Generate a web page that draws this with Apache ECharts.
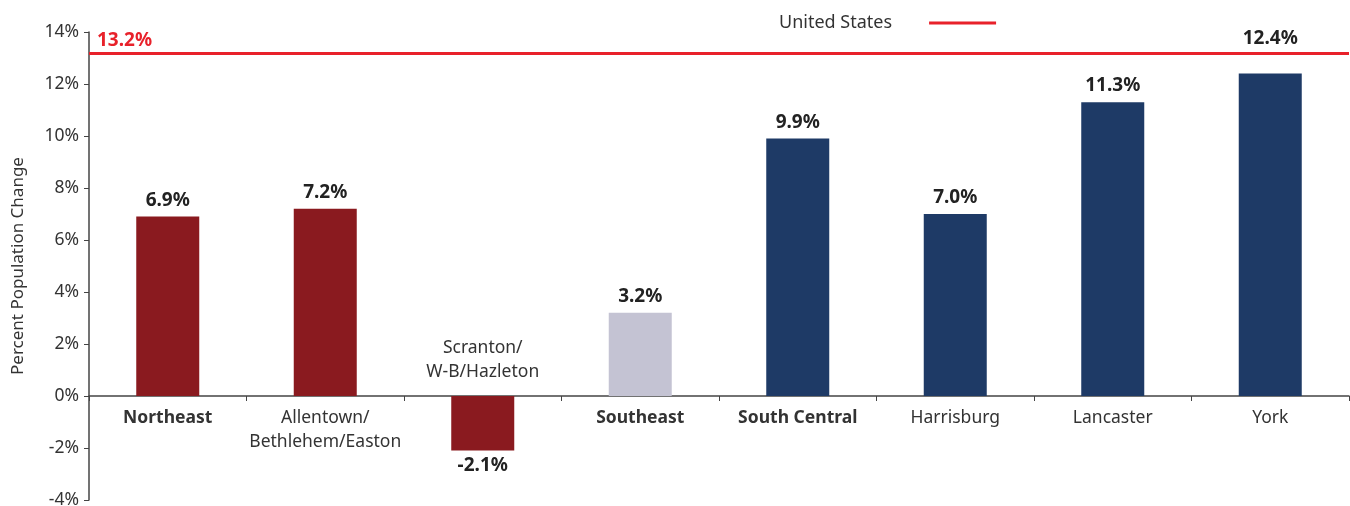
<!DOCTYPE html>
<html lang="en">
<head>
    <meta charset="utf-8"/>
    <title>Percent Population Change</title>
    <script src="https://cdn.jsdelivr.net/npm/echarts@6/dist/echarts.min.js"></script>
</head>
<body style="margin: 0; background: #fff">
<div id="chart" style="width: 1350px; height: 506px"></div>
<script>
    // data
    const regions = ['Northeast', 'Allentown/\nBethlehem/Easton', 'Scranton/\nW-B/Hazleton', 'Southeast',
        'South Central', 'Harrisburg', 'Lancaster', 'York'];
    const change = [6.9, 7.2, -2.1, 3.2, 9.9, 7.0, 11.3, 12.4];
    const barColors = ['#8a1a1f', '#8a1a1f', '#8a1a1f', '#c4c3d3', '#1e3a66', '#1e3a66', '#1e3a66', '#1e3a66'];
    const boldRegions = ['Northeast', 'Southeast', 'South Central'];
    const usChange = 13.2;
    const FONT = 'Noto Sans';

    const Y_MIN = -4, Y_MAX = 14;
    const GRID_TOP = 32, GRID_BOTTOM = 6, CHART_H = 506;

    let chart = echarts.init(document.getElementById('chart'));

    // category labels: bold for the summary regions, negative bars get the label above the axis
    let categoryData = regions.map(function (name, i) {
        let item = {value: name, textStyle: {}};
        if (boldRegions.includes(name)) item.textStyle.fontWeight = 'bold';
        if (change[i] < 0) {
            item.textStyle.verticalAlign = 'bottom';
            item.textStyle.padding = [0, 0, 22, 0];
        }
        return item;
    });

    // move the category axis up to the zero line
    const plotH = CHART_H - GRID_TOP - GRID_BOTTOM;
    const zeroOffset = -plotH * (0 - Y_MIN) / (Y_MAX - Y_MIN);

    chart.setOption({
        animation: false,
        textStyle: {fontFamily: FONT},
        grid: {left: 89, right: 1, top: GRID_TOP, bottom: GRID_BOTTOM, containLabel: false, outerBoundsMode: 'none'},
        legend: {
            data: ['United States'],
            top: 9,
            left: 774,
            align: 'right',
            icon: 'rect',
            itemWidth: 67,
            itemHeight: 3,
            itemGap: 10,
            textStyle: {fontFamily: FONT, fontSize: 18, color: '#333', padding: [0, 32, 0, 0]}
        },
        xAxis: {
            type: 'category',
            position: 'bottom',
            offset: zeroOffset,
            data: categoryData,
            axisLine: {onZero: false, lineStyle: {color: '#444', width: 1.5}},
            axisTick: {show: true, length: 5, lineStyle: {color: '#444'}},
            axisLabel: {
                interval: 0, margin: 10, fontSize: 17.5, color: '#333', lineHeight: 24, fontFamily: FONT
            }
        },
        yAxis: {
            type: 'value',
            min: Y_MIN,
            max: Y_MAX,
            interval: 2,
            name: 'Percent Population Change',
            nameLocation: 'middle',
            nameGap: 62,
            nameTextStyle: {fontSize: 17, color: '#333', fontFamily: FONT},
            splitLine: {show: false},
            axisLine: {show: true, lineStyle: {color: '#444', width: 1.5}},
            axisTick: {show: true, length: 5, lineStyle: {color: '#444'}},
            axisLabel: {
                fontSize: 17.5, color: '#333', margin: 10, fontFamily: FONT,
                formatter: function (v) { return v + '%'; }
            }
        },
        series: [
            {
                type: 'bar',
                barWidth: 63,
                data: change.map(function (v, i) {
                    let label = {position: v < 0 ? 'bottom' : 'top'};
                    if (v < 0) label.distance = 5;
                    // bars reaching close to the US line get their label lifted above it
                    if (v > 0 && usChange - v < 1.5) label.distance = 26;
                    return {
                        value: v,
                        itemStyle: {color: barColors[i]},
                        label: label
                    };
                }),
                label: {
                    show: true,
                    distance: 7,
                    fontSize: 19,
                    fontWeight: 'bold',
                    color: '#222',
                    fontFamily: FONT,
                    formatter: function (p) { return p.value.toFixed(1) + '%'; }
                }
            },
            {
                name: 'United States',
                type: 'line',
                data: [],
                itemStyle: {color: '#e8212a'},
                lineStyle: {color: '#e8212a', width: 3},
                markLine: {
                    silent: true,
                    symbol: 'none',
                    data: [{yAxis: usChange}],
                    lineStyle: {color: '#e8212a', width: 3, type: 'solid'},
                    label: {
                        position: 'insideStartTop',
                        distance: [8, 3],
                        fontSize: 19,
                        fontWeight: 'bold',
                        color: '#e8212a',
                        fontFamily: FONT,
                        formatter: function (p) { return p.value.toFixed(1) + '%'; }
                    }
                }
            }
        ]
    });
</script>
</body>
</html>
